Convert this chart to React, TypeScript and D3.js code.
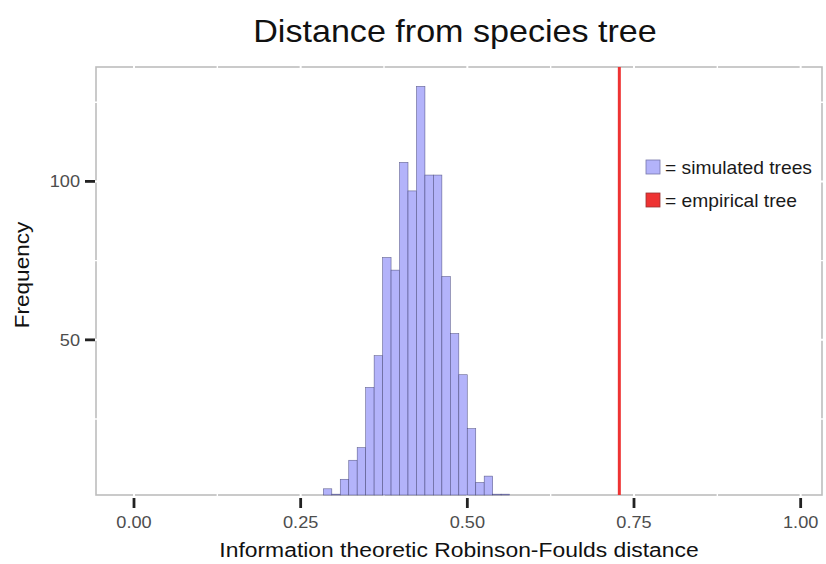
import React, { useRef, useEffect } from 'react';
import * as d3 from 'd3';

// histogram bins (left edge of each bin) and counts
const binWidth = 0.0127;
const binStarts = [
  0.284, 0.2967, 0.3094, 0.3221, 0.3348, 0.3475, 0.3602, 0.3729, 0.3856, 0.3983, 0.411,
  0.4237, 0.4364, 0.4491, 0.4618, 0.4745, 0.4872, 0.4999, 0.5126, 0.5253, 0.538, 0.5507,
];
const counts = [3, 1, 6, 12, 16, 35, 45, 76, 72, 106, 97, 130, 102, 102, 70, 52, 39, 22, 5, 7, 1, 1];

const empiricalDistance = 0.728;

const xTicks = [0, 0.25, 0.5, 0.75, 1];
const xMinor = [0.125, 0.375, 0.625, 0.875];
const yTicks = [50, 100];
const yMinor = [25, 75, 125];

const legendItems = [
  { label: '= simulated trees', fill: '#b3b3fa', stroke: '#7777aa' },
  { label: '= empirical tree', fill: '#ee3333', stroke: '#993333' },
];

const App = () => {
  const svgRef = useRef<SVGSVGElement | null>(null);

  useEffect(() => {
    if (!svgRef.current) return;
    const W = 826;
    const H = 564;
    const panel = { left: 96, right: 822, top: 67, bottom: 495 };
    const font = '"Liberation Sans", Arial, sans-serif';
    const stretch = 1.1; // the original text is drawn a bit wider than Arial

    const svg = d3.select(svgRef.current);
    svg.selectAll('*').remove();
    svg.attr('width', W).attr('height', H);

    svg.append('rect').attr('width', W).attr('height', H).attr('fill', 'white');

    // text placed at (tx, ty), widened horizontally
    const label = (parent, tx, ty, str, size, anchor, color, rot = 0) =>
      parent.append('text')
        .attr('transform', `translate(${tx},${ty}) rotate(${rot}) scale(${stretch},1)`)
        .attr('text-anchor', anchor)
        .style('font-family', font)
        .style('font-size', `${size}px`)
        .attr('fill', color)
        .text(str);

    const x = d3.scaleLinear().domain([-0.057, 1.032]).range([panel.left, panel.right]);
    const y = d3.scaleLinear().domain([1.04, 136.1]).range([panel.bottom, panel.top]);

    // panel border
    svg.append('rect')
      .attr('x', panel.left)
      .attr('y', panel.top)
      .attr('width', panel.right - panel.left)
      .attr('height', panel.bottom - panel.top)
      .attr('fill', 'white')
      .attr('stroke', '#bdbdbd')
      .attr('stroke-width', 1.6);

    // white grid lines (they cut the border)
    const grid = svg.append('g').attr('stroke', 'white');
    [...xTicks, ...xMinor].forEach(v => {
      grid.append('line')
        .attr('x1', x(v)).attr('x2', x(v))
        .attr('y1', panel.top - 2).attr('y2', panel.bottom + 2)
        .attr('stroke-width', xTicks.includes(v) ? 2 : 1.4);
    });
    [...yTicks, ...yMinor].forEach(v => {
      grid.append('line')
        .attr('x1', panel.left - 2).attr('x2', panel.right + 2)
        .attr('y1', y(v)).attr('y2', y(v))
        .attr('stroke-width', yTicks.includes(v) ? 2 : 1.4);
    });

    // bars
    svg.append('g')
      .selectAll('rect')
      .data(binStarts)
      .enter()
      .append('rect')
      .attr('x', d => x(d))
      .attr('width', x(binWidth) - x(0))
      .attr('y', (d, i) => y(Math.max(counts[i], 1.3)))
      .attr('height', (d, i) => panel.bottom - y(Math.max(counts[i], 1.3)))
      .attr('fill', '#b3b3fa')
      .attr('stroke', '#3c3c6e')
      .attr('stroke-opacity', 0.75)
      .attr('stroke-width', 0.6);

    // empirical tree line
    svg.append('line')
      .attr('x1', x(empiricalDistance)).attr('x2', x(empiricalDistance))
      .attr('y1', panel.top).attr('y2', panel.bottom)
      .attr('stroke', '#ee3333')
      .attr('stroke-width', 3);

    // axes
    const xAxis = svg.append('g');
    xTicks.forEach(v => {
      xAxis.append('line')
        .attr('x1', x(v)).attr('x2', x(v))
        .attr('y1', panel.bottom + 3).attr('y2', panel.bottom + 13)
        .attr('stroke', '#222').attr('stroke-width', 2.8);
      label(xAxis, x(v), panel.bottom + 33, d3.format('.2f')(v), 16.5, 'middle', '#4d4d4d');
    });

    const yAxis = svg.append('g');
    yTicks.forEach(v => {
      yAxis.append('line')
        .attr('x1', panel.left - 11).attr('x2', panel.left - 1)
        .attr('y1', y(v)).attr('y2', y(v))
        .attr('stroke', '#222').attr('stroke-width', 2.8);
      label(yAxis, panel.left - 16, y(v) + 6, String(v), 16.5, 'end', '#4d4d4d');
    });

    // titles
    label(svg, 455, 42, 'Distance from species tree', 31, 'middle', '#111');
    label(svg, (panel.left + panel.right) / 2, 557, 'Information theoretic Robinson-Foulds distance', 20.8, 'middle', '#111');
    label(svg, 29, 275, 'Frequency', 20.5, 'middle', '#111', -90);

    // legend
    const legend = svg.append('g').attr('transform', 'translate(646, 160)');
    legendItems.forEach((item, i) => {
      legend.append('rect')
        .attr('x', 0).attr('y', i * 33)
        .attr('width', 14).attr('height', 14)
        .attr('fill', item.fill)
        .attr('stroke', item.stroke)
        .attr('stroke-width', 0.8);
      label(legend, 19, i * 33 + 13.5, item.label, 17.5, 'start', '#1a1a1a');
    });
  }, []);

  return <svg ref={svgRef} style={{ position: 'absolute', left: 0, top: 0 }} />;
};

export default App;
